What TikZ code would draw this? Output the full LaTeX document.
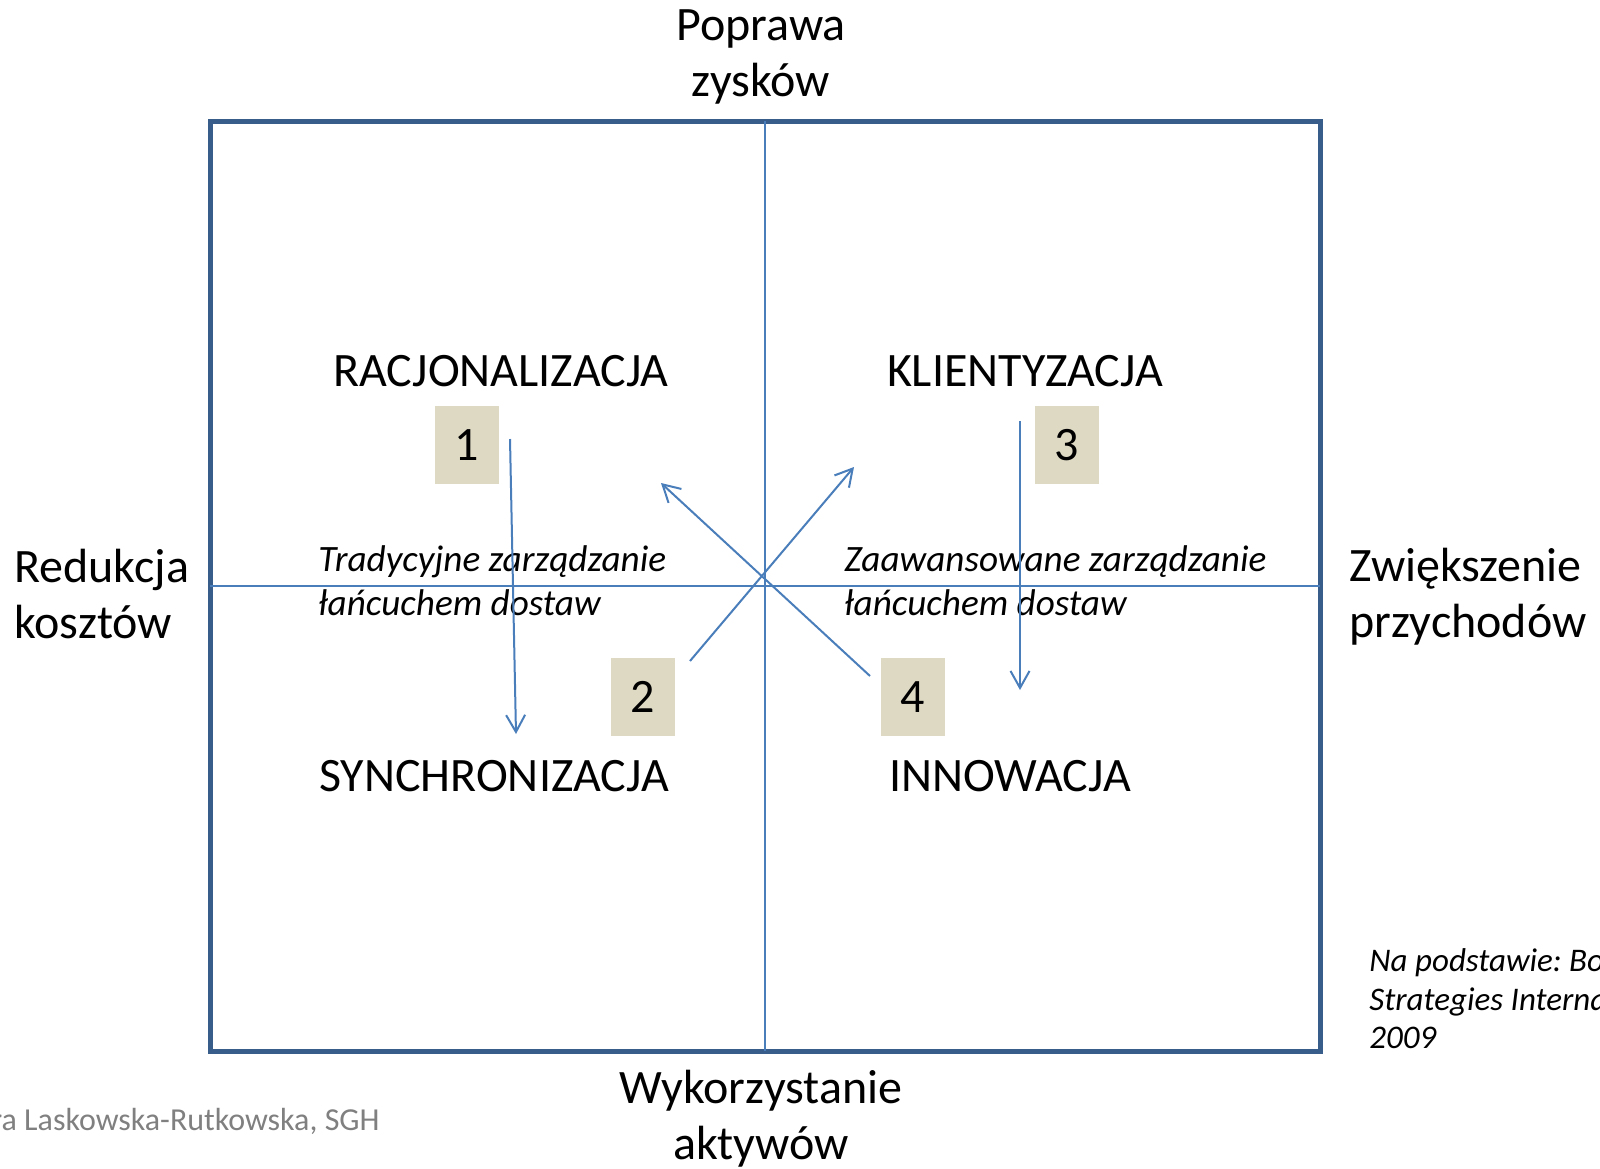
\documentclass[tikz,border=0pt]{standalone}
\usepackage{fontspec}
\setmainfont{Carlito}
\frenchspacing
\usetikzlibrary{arrows.meta}
\definecolor{framecol}{HTML}{385D8A}
\definecolor{linecol}{HTML}{4A7EBB}
\definecolor{boxcol}{HTML}{DDD9C3}
\definecolor{graytext}{HTML}{808080}
\tikzset{
  big/.style={inner sep=0pt, font=\fontsize{24}{28}\selectfont},
  itl/.style={inner sep=0pt, align=left, font=\fontsize{18.6}{22}\selectfont\itshape},
  numbox/.style={fill=boxcol, minimum width=32pt, minimum height=39pt, inner sep=0pt, font=\fontsize{24}{28}\selectfont},
  axis/.style={draw=linecol, line width=1pt},
  flow/.style={draw=linecol, line width=1pt, -{Straight Barb[length=8.5pt,width=9.5pt]}},
  frame/.style={draw=framecol, line width=2.5pt}
}
\begin{document}
\begin{tikzpicture}[x=0.5pt,y=-0.5pt]
\useasboundingbox (0,0) rectangle (1600,1168);
% frame and axes
\node[frame, minimum width=555pt, minimum height=465pt, inner sep=0pt] (fr) at (765,586) {};
\coordinate (top) at (765,121);
\coordinate (bot) at (765,1051);
\coordinate (lft) at (210,586);
\coordinate (rgt) at (1320,586);
\draw[axis] (top) -- (bot);
\draw[axis] (lft) -- (rgt);
% axis labels
\node[big, align=center] (poprawa) at (761,57) {Poprawa\\zysków};
\node[big, align=center] (wyk) at (761,1119) {Wykorzystanie\\aktywów};
\node[big, align=left, anchor=west] (red) at (14,594) {Redukcja\\kosztów};
\node[big, align=left, anchor=west] (zw) at (1349,597) {Zwiększenie\\przychodów};
% quadrant titles
\node[big] (rac) at (501,371) {RACJONALIZACJA};
\node[big] (kli) at (1025,371) {KLIENTYZACJA};
\node[big] (syn) at (494,776) {SYNCHRONIZACJA};
\node[big] (inn) at (1010,776) {INNOWACJA};
% italic middle texts
\node[itl, anchor=west] (trad) at (318,581) {Tradycyjne zarządzanie\\łańcuchem dostaw};
\node[itl, anchor=west] (zaaw) at (844,581) {Zaawansowane zarządzanie\\łańcuchem dostaw};
% number boxes
\node[numbox] (n1) at (467,445) {1};
\node[numbox] (n2) at (643,697) {2};
\node[numbox] (n3) at (1067,445) {3};
\node[numbox] (n4) at (913,697) {4};
% arrows
\coordinate (a1s) at (510,439);
\coordinate (a1e) at (516,734);
\coordinate (a2s) at (690,661);
\coordinate (a2e) at (854,467);
\coordinate (a3s) at (1020,421);
\coordinate (a3e) at (1020,690);
\coordinate (a4s) at (870,676);
\coordinate (a4e) at (661,483);
\draw[flow] (a1s) -- (a1e);
\draw[flow] (a2s) -- (a2e);
\draw[flow] (a3s) -- (a3e);
\draw[flow] (a4s) -- (a4e);
% source note
\node[inner sep=0pt, align=left, anchor=west, font=\fontsize{16.5}{19.25}\selectfont\itshape] (src) at (1369,999) {Na podstawie: Boston\\Strategies International,\\2009};
% author
\node[inner sep=0pt, anchor=east, text=graytext, font=\fontsize{16}{19}\selectfont] (auth) at (380,1121) {Barbara Laskowska-Rutkowska, SGH};
\end{tikzpicture}
\end{document}
